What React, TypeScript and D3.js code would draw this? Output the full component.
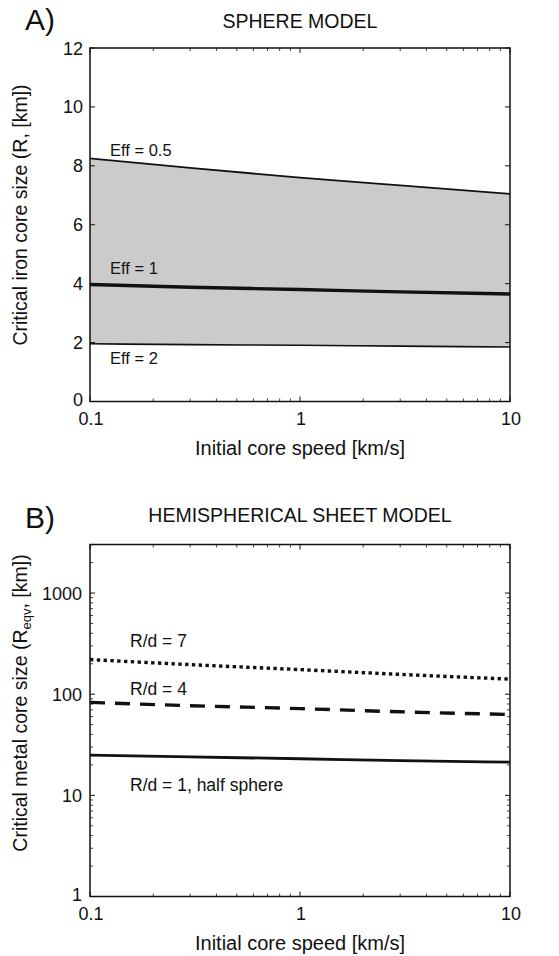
import * as d3 from "d3";
import { useEffect, useRef } from "react";

// x values shared by both panels (km/s)
const speeds = [0.1, 0.3, 1, 3, 10];

// panel A: critical iron core size, sphere model (km)
const eff05 = [8.25, 7.93, 7.6, 7.34, 7.05];
const eff1 = [3.97, 3.88, 3.8, 3.72, 3.65];
const eff2 = [1.96, 1.93, 1.91, 1.88, 1.85];
const sphereTicks = [0, 2, 4, 6, 8, 10, 12];

// panel B: critical metal core size, hemispherical sheet model (km)
const rd7 = [220, 196, 175, 157, 141];
const rd4 = [83, 77, 72, 67, 63];
const rd1 = [25, 24, 23, 22, 21.3];
const sheetTicks = [1, 10, 100, 1000];
const speedTicks = [0.1, 1, 10];

const FONT = "'Liberation Sans', Arial, Helvetica, sans-serif";

function App() {
    const ref = useRef<SVGSVGElement>(null);

    useEffect(() => {
        const svg = d3.select(ref.current);
        svg.selectAll("*").remove();

        const left = 90;
        const right = 510;

        const x = d3.scaleLog().domain([0.1, 10]).range([left, right]);
        const minorX = d3.range(-1, 1).flatMap(e => d3.range(2, 10).map(k => k * 10 ** e));

        const txt = (xx, yy, s, size = 16, anchor = "start") =>
            svg.append("text")
                .attr("x", xx)
                .attr("y", yy)
                .attr("text-anchor", anchor)
                .style("font-family", FONT)
                .style("font-size", `${size}px`)
                .attr("fill", "#111")
                .text(s);

        // frame + x ticks (inward on top and bottom)
        const drawFrame = (top, bottom) => {
            const g = svg.append("g").attr("stroke", "#111").attr("fill", "none");
            speedTicks.forEach(v => {
                g.append("line").attr("x1", x(v)).attr("x2", x(v)).attr("y1", bottom).attr("y2", bottom - 5);
                g.append("line").attr("x1", x(v)).attr("x2", x(v)).attr("y1", top).attr("y2", top + 5);
            });
            minorX.forEach(v => {
                g.append("line").attr("x1", x(v)).attr("x2", x(v)).attr("y1", bottom).attr("y2", bottom - 3).attr("stroke-width", 0.8);
                g.append("line").attr("x1", x(v)).attr("x2", x(v)).attr("y1", top).attr("y2", top + 3).attr("stroke-width", 0.8);
            });
            speedTicks.forEach(v => txt(x(v) + 1, bottom + 23, String(v), 18, "middle"));
            txt((left + right) / 2, bottom + 53.5, "Initial core speed [km/s]", 20, "middle");
            return g;
        };

        const yLabel = (cy) =>
            svg.append("text")
                .attr("transform", `translate(27,${cy}) rotate(-90)`)
                .attr("text-anchor", "middle")
                .style("font-family", FONT)
                .style("font-size", "19.5px")
                .attr("fill", "#111");

        // ---------- panel A ----------
        const topA = 48;
        const botA = 401.5;
        const yA = d3.scaleLinear().domain([0, 12]).range([botA, topA]);

        const area = d3.area<number>()
            .x((_, i) => x(speeds[i]))
            .y0((_, i) => yA(eff2[i]))
            .y1(d => yA(d));
        svg.append("path").datum(eff05).attr("d", area).attr("fill", "#cbcbcb");

        const lineA = d3.line<number>().x((_, i) => x(speeds[i])).y(d => yA(d)).curve(d3.curveMonotoneX);
        svg.append("path").datum(eff05).attr("d", lineA).attr("fill", "none").attr("stroke", "#111").attr("stroke-width", 1.8);
        svg.append("path").datum(eff1).attr("d", lineA).attr("fill", "none").attr("stroke", "#111").attr("stroke-width", 3.4);
        svg.append("path").datum(eff2).attr("d", lineA).attr("fill", "none").attr("stroke", "#111").attr("stroke-width", 1.6);

        const gA = drawFrame(topA, botA);
        sphereTicks.forEach(v => {
            gA.append("line").attr("x1", left).attr("x2", left + 5).attr("y1", yA(v)).attr("y2", yA(v));
            gA.append("line").attr("x1", right).attr("x2", right - 5).attr("y1", yA(v)).attr("y2", yA(v));
            txt(left - 7, yA(v) + (v === 0 ? 4.5 : 6.5), String(v), 18, "end");
        });
        gA.append("rect").attr("x", left).attr("y", topA).attr("width", right - left).attr("height", botA - topA).attr("stroke-width", 1.5);

        txt(110, 156, "Eff = 0.5", 16.5);
        txt(110, 274, "Eff = 1", 16.5);
        txt(110, 364, "Eff = 2", 16.5);

        txt(300, 28, "SPHERE MODEL", 19.5, "middle");
        txt(25, 30, "A)", 30);
        yLabel(215).text("Critical iron core size (R, [km])");

        // ---------- panel B ----------
        const topB = 544.5;
        const botB = 896.5;
        const yB = d3.scaleLog().domain([1, 3020]).range([botB, topB]);

        const lineB = d3.line<number>().x((_, i) => x(speeds[i])).y(d => yB(d)).curve(d3.curveMonotoneX);
        svg.append("path").datum(rd7).attr("d", lineB).attr("fill", "none").attr("stroke", "#111")
            .attr("stroke-width", 3.4).attr("stroke-dasharray", "3.4 3.4");
        svg.append("path").datum(rd4).attr("d", lineB).attr("fill", "none").attr("stroke", "#111")
            .attr("stroke-width", 3.4).attr("stroke-dasharray", "15 10");
        svg.append("path").datum(rd1).attr("d", lineB).attr("fill", "none").attr("stroke", "#111")
            .attr("stroke-width", 2.8);

        const gB = drawFrame(topB, botB);
        const minorY = d3.range(0, 4).flatMap(e => d3.range(2, 10).map(k => k * 10 ** e)).filter(v => v <= 3000);
        sheetTicks.forEach(v => {
            gB.append("line").attr("x1", left).attr("x2", left + 5).attr("y1", yB(v)).attr("y2", yB(v));
            gB.append("line").attr("x1", right).attr("x2", right - 5).attr("y1", yB(v)).attr("y2", yB(v));
            txt(left - 8, yB(v) + (v === 1 ? 4.5 : 6.5), String(v), 18, "end");
        });
        minorY.forEach(v => {
            gB.append("line").attr("x1", left).attr("x2", left + 3).attr("y1", yB(v)).attr("y2", yB(v)).attr("stroke-width", 0.8);
            gB.append("line").attr("x1", right).attr("x2", right - 3).attr("y1", yB(v)).attr("y2", yB(v)).attr("stroke-width", 0.8);
        });
        gB.append("rect").attr("x", left).attr("y", topB).attr("width", right - left).attr("height", botB - topB).attr("stroke-width", 1.5);

        txt(130, 647, "R/d = 7", 17.5);
        txt(130, 695, "R/d = 4", 17.5);
        txt(130, 791, "R/d = 1, half sphere", 17.5);

        txt(300, 522, "HEMISPHERICAL SHEET MODEL", 19.5, "middle");
        txt(25, 528, "B)", 30);
        const yl = yLabel(703);
        yl.append("tspan").text("Critical metal core size (R");
        yl.append("tspan").attr("dy", 4).style("font-size", "13px").text("eqv");
        yl.append("tspan").attr("dy", -4).text(", [km])");
    }, []);

    return (
        <div style={{ position: "absolute", left: 0, top: 0 }}>
            <svg ref={ref} width={559} height={956} style={{ display: "block", background: "#fff" }} />
        </div>
    );
}

export default App;
